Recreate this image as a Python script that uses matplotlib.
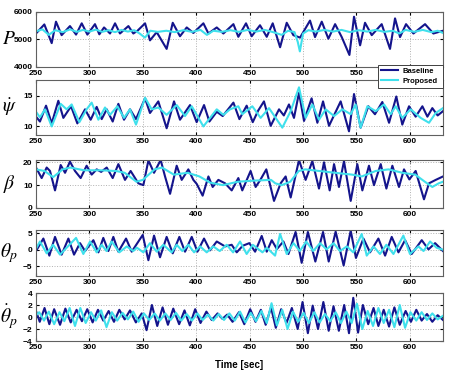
import numpy as np
import matplotlib
matplotlib.use("Agg")
import matplotlib.pyplot as plt

# values (local peaks / troughs), time in sec
p_base_t = [250, 257.8, 264.7, 268.7, 274.0, 281.8, 287.5, 292.8, 298.1, 305.2, 309.3, 313.7,
            319.3, 324.0, 328.6, 336.5, 341.1, 345, 352.1, 356.7, 363.0, 372.3, 378.0, 384.8,
            391.1, 397.3, 406.7, 411.4, 419.2, 425.4, 434.8, 439.4, 446.6, 451.9, 459.7, 466.0,
            471.6, 478.5, 484.7, 490.9, 497.2, 506.5, 511.2, 517.5, 523.7, 530.0, 536.2, 543.4,
            547.7, 553.4, 558.0, 564.3, 573.6, 581.4, 586.1, 590.8, 596.4, 603.3, 614.2, 622.0, 631]
p_base_v = [5200, 5530, 4850, 5630, 5140, 5470, 5160, 5570, 5160, 5540, 5170, 5420,
            5200, 5570, 5200, 5470, 5200, 5300, 5570, 4950, 5250, 4640, 5590, 5100,
            5420, 5220, 5570, 5200, 5420, 5200, 5540, 5080, 5570, 5100, 5500, 5080,
            5570, 4700, 5590, 5140, 5050, 5670, 5070, 5630, 5010, 5540, 5070, 4420,
            5810, 4770, 5590, 5140, 5540, 4640, 5750, 5070, 5540, 5200, 5540, 5200, 5300]
p_prop_t = [250, 256, 262, 268, 275, 282, 288, 294, 300, 306, 312, 318, 324, 330, 336, 342,
            347, 352, 357, 364, 372, 380, 388, 396, 404, 410, 416, 424, 432, 440, 448, 456,
            464, 472, 480, 486, 492, 495, 497, 500, 505, 512, 520, 528, 536, 544, 552, 560,
            568, 576, 584, 590, 596, 604, 612, 620, 626, 631]
p_prop_v = [5280, 5350, 5150, 5320, 5250, 5350, 5260, 5330, 5270, 5340, 5260, 5320, 5250, 5330,
            5270, 5320, 5200, 5050, 5300, 5260, 5300, 5250, 5320, 5260, 5330, 5150, 5300, 5260,
            5320, 5260, 5330, 5270, 5330, 5250, 5150, 5300, 5250, 4900, 4550, 5200, 5320, 5270,
            5330, 5270, 5330, 5250, 5320, 5270, 5330, 5260, 5300, 5200, 5330, 5260, 5330, 5250,
            5300, 5220]

psi_base_t = [250, 253.7, 259.4, 264.7, 270.9, 275.6, 282.8, 288.7, 295.9, 301.2, 306.8, 311.5,
              316.2, 321.8, 327.1, 332.4, 338.0, 343.6, 352.1, 356.7, 364.5, 372.3, 379.2, 384.8,
              394.2, 400.4, 407.3, 412.3, 419.2, 424.8, 434.8, 440.4, 447.2, 452.9, 458.0, 463.4,
              469.7, 477.5, 482.0, 486.8, 491.5, 496.2, 500.9, 508.0, 513.4, 518.7, 524.3, 535.2,
              543.0, 547.7, 553.9, 561.1, 567.3, 574.2, 580.5, 587.3, 592.9, 599.2, 605.4, 611.7,
              616.4, 621.0, 626.0, 631]
psi_base_v = [11.6, 10.8, 13.4, 10.5, 14.2, 11.4, 13.3, 10.5, 12.8, 11.1, 13.2, 11.2,
              12.8, 10.8, 13.7, 11.1, 12.8, 11.2, 14.6, 12.2, 14.1, 9.7, 14.1, 11.1,
              13.5, 10.7, 13.5, 10.8, 12.4, 11.7, 13.9, 11.2, 13.4, 10.7, 12.6, 14.1,
              10.1, 12.8, 11.8, 13.6, 11.4, 15.5, 10.9, 14.6, 10.6, 14.1, 10.1, 14.1,
              9.2, 15.3, 9.8, 13.3, 12.0, 14.0, 10.6, 14.9, 10.3, 13.3, 11.6, 13.3,
              11.6, 13.0, 11.8, 12.5]
psi_prop_t = [250, 253.7, 258.4, 264.7, 273.1, 278.7, 283.4, 290.6, 297.4, 302.1, 308.4, 314.6,
              319.3, 326.2, 332.4, 338.0, 343.6, 352.1, 358.3, 364.5, 372.3, 381.7, 389.5, 395.8,
              406.7, 412.9, 419.2, 425.4, 431.6, 439.4, 443.1, 452.5, 460.3, 468.1, 480.6, 488.4,
              496.2, 502.4, 508.7, 514.9, 521.2, 529.0, 536.8, 544.6, 549.2, 553.9, 560.2, 568.0,
              575.8, 582.0, 586.7, 592.9, 600.7, 610.1, 617.9, 624.2, 631]
psi_prop_v = [12.4, 11.5, 12.8, 10.0, 13.7, 12.8, 13.6, 10.7, 12.8, 13.9, 11.1, 13.1,
              11.9, 13.3, 11.4, 12.8, 10.3, 14.7, 12.8, 13.1, 11.9, 13.5, 11.7, 13.3,
              10.0, 11.4, 12.8, 11.9, 12.8, 13.3, 12.0, 13.3, 11.4, 13.0, 9.8, 12.5,
              16.4, 11.4, 13.6, 11.1, 12.8, 11.7, 12.8, 12.0, 13.6, 9.8, 13.3, 12.5,
              13.6, 12.0, 13.3, 11.4, 12.8, 11.4, 10.6, 12.2, 13.0]

beta_base_t = [250, 255.3, 260.0, 263.1, 267.8, 273.1, 277.2, 281.8, 286.5, 291.8, 297.4, 302.1,
               306.8, 311.0, 316.2, 321.8, 327.1, 333.3, 338.6, 345.8, 350.5, 355.2, 360.5, 366.7,
               370.8, 375.5, 381.7, 386.4, 392.6, 397.3, 400.5, 406.0, 411.4, 415.4, 420.7, 427.0,
               433.2, 439.4, 443.1, 450.9, 455.6, 460.0, 465.6, 472.8, 479.0, 483.7, 488.4, 496.2,
               502.4, 508.7, 514.9, 519.6, 524.9, 529.0, 533.6, 538.3, 544.6, 550.8, 555.5, 561.7,
               566.4, 572.7, 578.0, 583.6, 589.8, 594.5, 599.5, 605.4, 613.2, 617.9, 624.2, 631]
beta_base_v = [17.7, 13.1, 17.7, 16.2, 7.7, 18.8, 15.4, 20.3, 16.2, 13.1, 18.5, 14.6,
               16.9, 15.8, 17.7, 13.1, 19.2, 12.3, 16.2, 10.8, 10.0, 20.8, 15.4, 21.0,
               13.8, 6.2, 18.5, 12.3, 16.9, 12.3, 10.5, 5.4, 13.8, 9.2, 12.3, 10.8,
               7.7, 13.1, 7.7, 16.2, 9.2, 12.3, 16.9, 3.1, 10.8, 13.8, 4.6, 21.0,
               12.3, 20.5, 8.5, 20.0, 7.7, 19.2, 9.2, 20.5, 3.1, 19.2, 7.7, 18.5,
               10.0, 19.2, 8.5, 18.5, 9.2, 16.9, 12.5, 16.2, 3.8, 10.8, 12.3, 13.8]
beta_prop_t = [250, 258, 266, 275, 282, 295, 310, 325, 333, 344, 350, 361, 368, 379, 392, 403,
               413, 425, 439, 455, 470, 474, 480, 488, 496, 502, 515, 530, 546, 555, 568, 580,
               593, 605, 614, 621, 627, 631]
beta_prop_v = [16.9, 16.2, 13.5, 16.9, 17.7, 16.5, 16.5, 16.2, 15.4, 11.5, 12.3, 16.9, 17.7,
               14.6, 15.4, 13.8, 11.1, 10.0, 11.5, 12.0, 12.3, 10.8, 10.0, 11.5, 16.2, 16.9,
               16.2, 15.4, 14.6, 13.8, 16.2, 16.9, 15.4, 14.6, 11.5, 9.2, 10.8, 11.5]

th_base_t = [250, 256.9, 262.5, 267.8, 274.0, 280.3, 285.6, 291.2, 295.9, 303.7, 308.4, 313.0,
             317.7, 322.4, 327.1, 334.3, 339.6, 349.9, 355.2, 360.5, 366.1, 372.3, 378.0, 384.2,
             389.5, 395.8, 401.1, 407.3, 412.9, 419.2, 427.0, 433.2, 437.9, 443.5, 449.7, 455.1,
             461.3, 466.0, 470.7, 475.5, 481.6, 486.3, 493.0, 498.7, 504.5, 511.5, 518.7, 524.0,
             530.5, 538.0, 544.6, 549.5, 556.5, 562.7, 570.5, 576.8, 583.0, 589.3, 595.5, 601.7,
             611.1, 617.4, 623.6, 631]
th_base_v = [-0.4, 3.4, -1.8, 3.9, -1.5, 3.4, -1.5, 2.0, -0.4, 2.9, -0.8, 3.6,
             -0.4, 3.9, -0.6, 3.4, -0.6, 4.5, -3.2, 4.3, -2.3, 3.9, -1.1, 3.9,
             -0.6, 3.9, -0.6, 3.4, -0.2, 2.5, 1.0, 1.5, -0.8, 1.2, 2.0, -0.6,
             4.2, -0.6, 2.9, 0.2, 2.5, -1.3, 5.4, -4.0, 5.4, -3.6, 5.4, -3.6,
             5.5, -4.8, 5.8, -2.5, 3.4, -0.8, 3.4, -1.8, 3.9, -0.8, 2.9, -1.3,
             2.9, 0.1, 2.0, -0.4]
th_prop_t = [250, 253.7, 260.0, 266.0, 272.5, 287.5, 294.3, 300.6, 306.8, 311.5, 316.0, 320.8,
             328.0, 335.0, 341.0, 344.5, 350.5, 356.7, 363.0, 369.2, 377.0, 381.7, 387.0, 392.6,
             398.0, 403.6, 409.8, 416.0, 422.0, 428.5, 434.5, 441.0, 447.2, 453.0, 462.0, 466.0,
             473.8, 478.5, 484.7, 491.0, 497.0, 503.0, 509.5, 515.9, 522.0, 528.5, 534.5, 541.0,
             547.0, 554.9, 559.6, 566.0, 572.0, 578.0, 584.6, 593.9, 600.1, 608.0, 612.8, 618.9,
             625.0, 631]
th_prop_v = [0.3, 2.5, -1.1, 1.5, -1.5, 3.6, -1.3, 2.5, -0.8, 1.5, -0.4, 2.5,
             -0.8, 1.0, -0.4, 0.6, -0.8, 2.0, -0.6, 1.5, -0.8, 1.5, -0.4, 1.5,
             -0.8, 1.0, -0.8, 1.0, -0.4, 1.5, -0.8, 2.5, -1.3, 1.5, -0.8, 0.6,
             -1.8, 4.8, -1.3, 2.0, -0.4, 2.5, -0.4, 2.0, 0.1, 2.0, -0.4, 1.0,
             -0.8, 4.8, -1.8, 1.0, -1.3, 1.5, -1.3, 4.3, -1.3, 1.0, -0.4, 2.5,
             0.6, 0.0]

dth_base_t = [250, 253.5, 258.0, 262.5, 267.0, 272.5, 277.5, 282.5, 288.0, 293.0, 298.0, 303.0,
              308.0, 313.0, 318.0, 323.0, 328.0, 333.0, 338.0, 343.5, 349.0, 353.5, 358.5, 363.5,
              368.5, 373.5, 378.5, 384.0, 389.0, 394.0, 399.0, 404.0, 409.5, 414.5, 420.0, 424.5,
              429.0, 434.0, 440.0, 445.0, 450.5, 455.5, 460.5, 465.0, 470.0, 474.5, 479.5, 484.5,
              489.5, 495.0, 499.5, 504.5, 509.0, 514.0, 519.0, 524.0, 528.5, 533.5, 538.5, 543.0,
              547.0, 551.5, 556.0, 561.0, 566.0, 570.5, 575.5, 580.5, 585.5, 590.5, 596.0, 601.0,
              606.0, 611.0, 616.0, 621.0, 626.0, 631]
dth_base_v = [1.0, -0.8, 1.5, -1.2, 1.3, -1.3, 1.4, -0.9, 1.2, -0.7, 1.3, -0.9,
              1.2, -0.6, 1.0, -0.8, 1.2, -0.4, 1.1, -0.9, 0.6, -2.2, 2.0, -1.5,
              1.6, -1.3, 1.4, -1.2, 1.1, -1.4, 1.3, -1.0, 0.9, -0.5, 0.6, -0.3,
              0.4, -0.8, 0.8, -1.2, 1.3, -0.8, 1.2, -1.3, 1.6, -1.8, 1.3, -1.0,
              1.5, -2.0, 2.5, -2.7, 1.9, -2.0, 2.5, -2.3, 1.8, -2.3, 2.0, -2.7,
              3.2, -2.6, 2.0, -1.2, 1.5, -1.5, 1.2, -1.6, 1.6, -1.3, 1.0, -0.8,
              1.2, -0.6, 0.5, -0.8, 0.3, -0.5]
dth_prop_t = [250, 253.0, 257.5, 262.0, 267.0, 272.0, 276.5, 281.5, 286.5, 291.5, 296.5, 301.5,
              306.0, 311.0, 316.0, 321.0, 326.0, 331.0, 336.0, 341.0, 346.0, 351.0, 356.0, 361.0,
              366.0, 371.0, 376.0, 381.0, 386.0, 391.0, 396.0, 401.0, 406.0, 411.0, 416.0, 421.0,
              426.0, 431.0, 436.0, 441.0, 446.0, 451.0, 456.0, 461.0, 466.0, 470.5, 475.5, 480.5,
              485.5, 490.5, 495.5, 500.5, 505.5, 510.5, 515.5, 520.5, 525.5, 530.5, 535.5, 540.5,
              545.5, 550.5, 555.5, 560.5, 565.5, 570.5, 575.5, 580.5, 585.5, 590.5, 595.5, 600.5,
              606.0, 611.0, 616.0, 621.0, 626.0, 631]
dth_prop_v = [0.3, 0.8, -0.6, 0.9, -1.2, 0.8, -0.7, 1.5, -1.5, 1.5, -1.0, 0.8,
              -0.6, 1.1, -1.7, 0.8, -0.6, 0.7, -0.4, 0.9, -0.8, 0.6, -0.5, 0.6,
              -0.6, 0.6, -0.5, 0.7, -0.6, 0.5, -0.6, 0.6, -0.5, 0.4, -0.6, 0.5,
              -0.5, 0.6, -0.6, 0.9, -0.9, 0.7, -0.7, 1.0, -1.0, 2.3, -1.4, 1.2,
              -2.0, 0.9, -0.8, 0.7, -1.0, 0.8, -0.9, 0.5, -0.7, 0.8, -1.0, 0.9,
              -1.0, 2.2, -2.0, 1.0, -1.5, 1.5, -1.0, 1.2, -1.7, 2.0, -1.8, 0.8,
              -0.6, 0.8, -0.5, 0.6, -0.4, 0.2]

panels = [
    (p_base_t, p_base_v, p_prop_t, p_prop_v, r'$P$', (4000, 6000), [4000, 5000, 6000]),
    (psi_base_t, psi_base_v, psi_prop_t, psi_prop_v, r'$\dot{\psi}$', (8.6, 17.6), [10, 15]),
    (beta_base_t, beta_base_v, beta_prop_t, beta_prop_v, r'$\beta$', (0, 21), [0, 10, 20]),
    (th_base_t, th_base_v, th_prop_t, th_prop_v, r'$\theta_p$', (-8, 6), [-5, 0, 5]),
    (dth_base_t, dth_base_v, dth_prop_t, dth_prop_v, r'$\dot{\theta}_p$', (-4, 4), [-4, -2, 0, 2, 4]),
]

# axes boxes in pixels: (top, bottom)
boxes = [(11.5, 66.5), (80, 135), (160, 208), (230, 276), (293, 341)]

plt.rcParams['mathtext.fontset'] = 'stix'
fig = plt.figure(figsize=(4.5, 3.75), dpi=100)
W, H = 450.0, 375.0
navy = '#14148c'
cyan = '#3fe0ec'

axes = []
for (bt, bv, pt, pv, lab, ylim, yt), (top, bot) in zip(panels, boxes):
    ax = fig.add_axes([36 / W, 1 - bot / H, (443 - 36) / W, (bot - top) / H])
    ax.plot(bt, bv, color=navy, lw=1.5, label='Baseline')
    ax.plot(pt, pv, color=cyan, lw=1.5, label='Proposed')
    ax.set_xlim(250, 631)
    ax.set_ylim(*ylim)
    ax.set_yticks(yt)
    ax.set_xticks([250, 300, 350, 400, 450, 500, 550, 600])
    ax.grid(True, color='#b0b0b0', linestyle=':', linewidth=0.7)
    ax.tick_params(direction='in', length=2, labelsize=6, pad=2.5, top=True, right=True)
    for t in ax.get_xticklabels() + ax.get_yticklabels():
        t.set_fontweight('bold')
        t.set_family('Liberation Sans')
    ax.set_ylabel(lab, fontsize=14, rotation=0, va='center', ha='center')
    ax.yaxis.set_label_coords(-0.066, 0.5)
    for s in ax.spines.values():
        s.set_linewidth(0.8)
        s.set_color('#606060')
    axes.append(ax)

axes[-1].set_xlabel('Time [sec]', fontsize=7, fontweight='bold', family='Liberation Sans', labelpad=6)

# legend sits on top of the second panel, so raise the first axes
axes[0].set_zorder(5)
leg = axes[0].legend(loc='upper left', mode='expand',
                     bbox_to_anchor=(378 / W, 1 - 86 / H, 65 / W, 21 / H), bbox_transform=fig.transFigure,
                     prop={'family': 'Liberation Sans', 'weight': 'bold', 'size': 5.5},
                     frameon=True, fancybox=False, edgecolor='#404040', framealpha=1, handlelength=2.3,
                     borderpad=0.35, labelspacing=0.35, handletextpad=0.5, borderaxespad=0)
leg.get_frame().set_linewidth(0.7)

fig.savefig('out.png', dpi=100)
